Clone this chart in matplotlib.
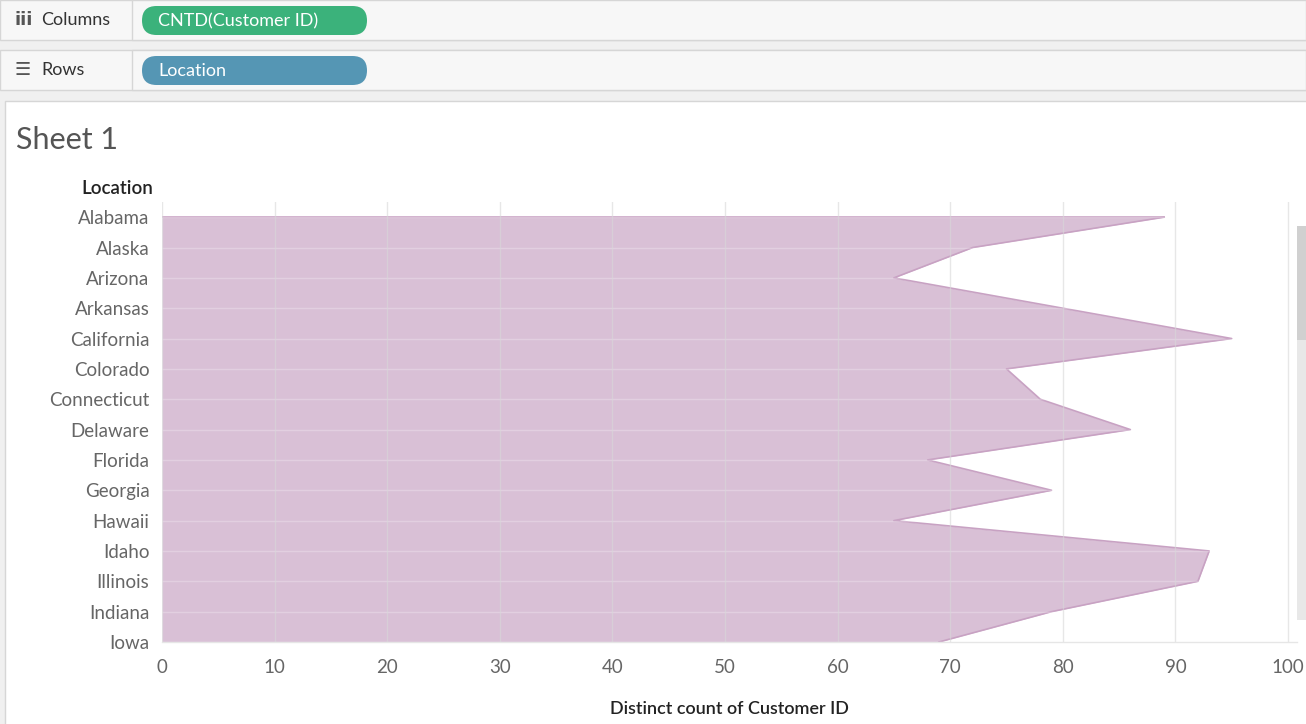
import matplotlib
matplotlib.use("Agg")
import matplotlib.pyplot as plt
from matplotlib.patches import Rectangle, FancyBboxPatch
from matplotlib.transforms import IdentityTransform

# data
locations = ["Alabama", "Alaska", "Arizona", "Arkansas", "California", "Colorado",
             "Connecticut", "Delaware", "Florida", "Georgia", "Hawaii", "Idaho",
             "Illinois", "Indiana", "Iowa"]
customers = [89, 72, 65, 80, 95, 75, 78, 86, 68, 79, 65, 93, 92, 79, 69]
x_ticks = [0, 10, 20, 30, 40, 50, 60, 70, 80, 90, 100]

W, H = 1306, 724
fig = plt.figure(figsize=(W / 100, H / 100), dpi=100)
fig.patch.set_facecolor("#f0f0f0")
plt.rcParams["font.family"] = ["Lato", "DejaVu Sans"]


def px(x, y):
    # pixel coords (from top-left) to figure fraction
    return x / W, 1 - y / H


def rect(x0, y0, x1, y1, fc, ec="none", lw=1, z=0):
    fx, fy = px(x0, y1)
    fig.add_artist(Rectangle((fx, fy), (x1 - x0) / W, (y1 - y0) / H,
                             transform=fig.transFigure, facecolor=fc,
                             edgecolor=ec, linewidth=lw, zorder=z))


def pill(x0, y0, x1, y1, color, label):
    h = y1 - y0
    fig.add_artist(FancyBboxPatch((x0, H - y1), x1 - x0, h,
                                  boxstyle="round,pad=0,rounding_size=%f" % (h / 2),
                                  transform=IdentityTransform(), facecolor=color,
                                  edgecolor="none", zorder=2))
    fig.text(*px(x0 + 16, (y0 + y1) / 2 + 1), label, color="white", fontsize=13,
             va="center", ha="left", zorder=3)


# shelves
rect(0, 0, W, 40, "#f7f7f7", "#d6d6d6", z=1)
rect(132, 0, W, 40, "#f7f7f7", "#d6d6d6", z=1)
rect(0, 50, W, 90, "#f7f7f7", "#d6d6d6", z=1)
rect(132, 50, W, 90, "#f7f7f7", "#d6d6d6", z=1)
pill(142, 6, 367, 35, "#3bb27b", "CNTD(Customer ID)")
pill(142, 56, 367, 85, "#5596b4", "Location")

fig.text(*px(15, 20), "iii", fontsize=13, fontweight="bold", color="#555555",
         va="center", ha="left", family="DejaVu Sans")
fig.text(*px(41, 20), "Columns", fontsize=13, color="#333333", va="center", ha="left")
fig.text(*px(14, 70), "\u2630", fontsize=13, color="#555555", va="center", ha="left",
         family="DejaVu Sans")
fig.text(*px(41, 70), "Rows", fontsize=13, color="#333333", va="center", ha="left")

# sheet area
rect(5, 101, W + 5, H + 5, "white", "#d6d6d6", z=1)
fig.text(*px(16, 140), "Sheet 1", fontsize=22, color="#555555",
         va="center", ha="left", zorder=3)
fig.text(*px(153, 189), "Location", fontsize=13.5, color="#222222",
         va="center", ha="right", fontweight="semibold", zorder=3)

# plot area: left 162, right 1297, top 202, bottom 642
ax = fig.add_axes([162 / W, 1 - 642 / H, (1297 - 162) / W, (642 - 202) / H])
ax.set_zorder(4)
ax.set_facecolor("none")
rows = list(range(len(locations)))
ax.fill_betweenx(rows, 0, customers, color="#d9c0d6", zorder=1, linewidth=0)
ax.plot(customers, rows, color="#c8a2c3", linewidth=1.2, zorder=2)
ax.plot([0, customers[0]], [0, 0], color="#c8a2c3", linewidth=1.2, zorder=2)
for r in rows:
    ax.axhline(r, color="white", alpha=0.25, linewidth=1, zorder=3)
for t in x_ticks:
    ax.axvline(t, color="#d8d8d8", alpha=0.6, linewidth=1, zorder=3)

ax.set_xlim(0, (1297 - 162) / 11.26)
ax.set_ylim(14, -0.5)
ax.set_yticks(rows)
ax.set_yticklabels(locations)
ax.set_xticks(x_ticks)
ax.tick_params(axis="both", length=0, labelsize=13.5, labelcolor="#666666")
ax.tick_params(axis="y", pad=9)
ax.tick_params(axis="x", pad=12)
for s in ax.spines.values():
    s.set_visible(False)
ax.axhline(14, color="#e6e6e6", linewidth=1, zorder=3, clip_on=False)
ax.set_xlabel("Distinct count of Customer ID", fontsize=13, color="#222222",
              labelpad=18, fontweight="semibold")

# scrollbar
rect(1297, 226, 1306, 620, "#e8e8e8", z=5)
rect(1297, 226, 1306, 340, "#d0d0d0", z=5)

fig.savefig("out.png", dpi=100, facecolor=fig.get_facecolor())
